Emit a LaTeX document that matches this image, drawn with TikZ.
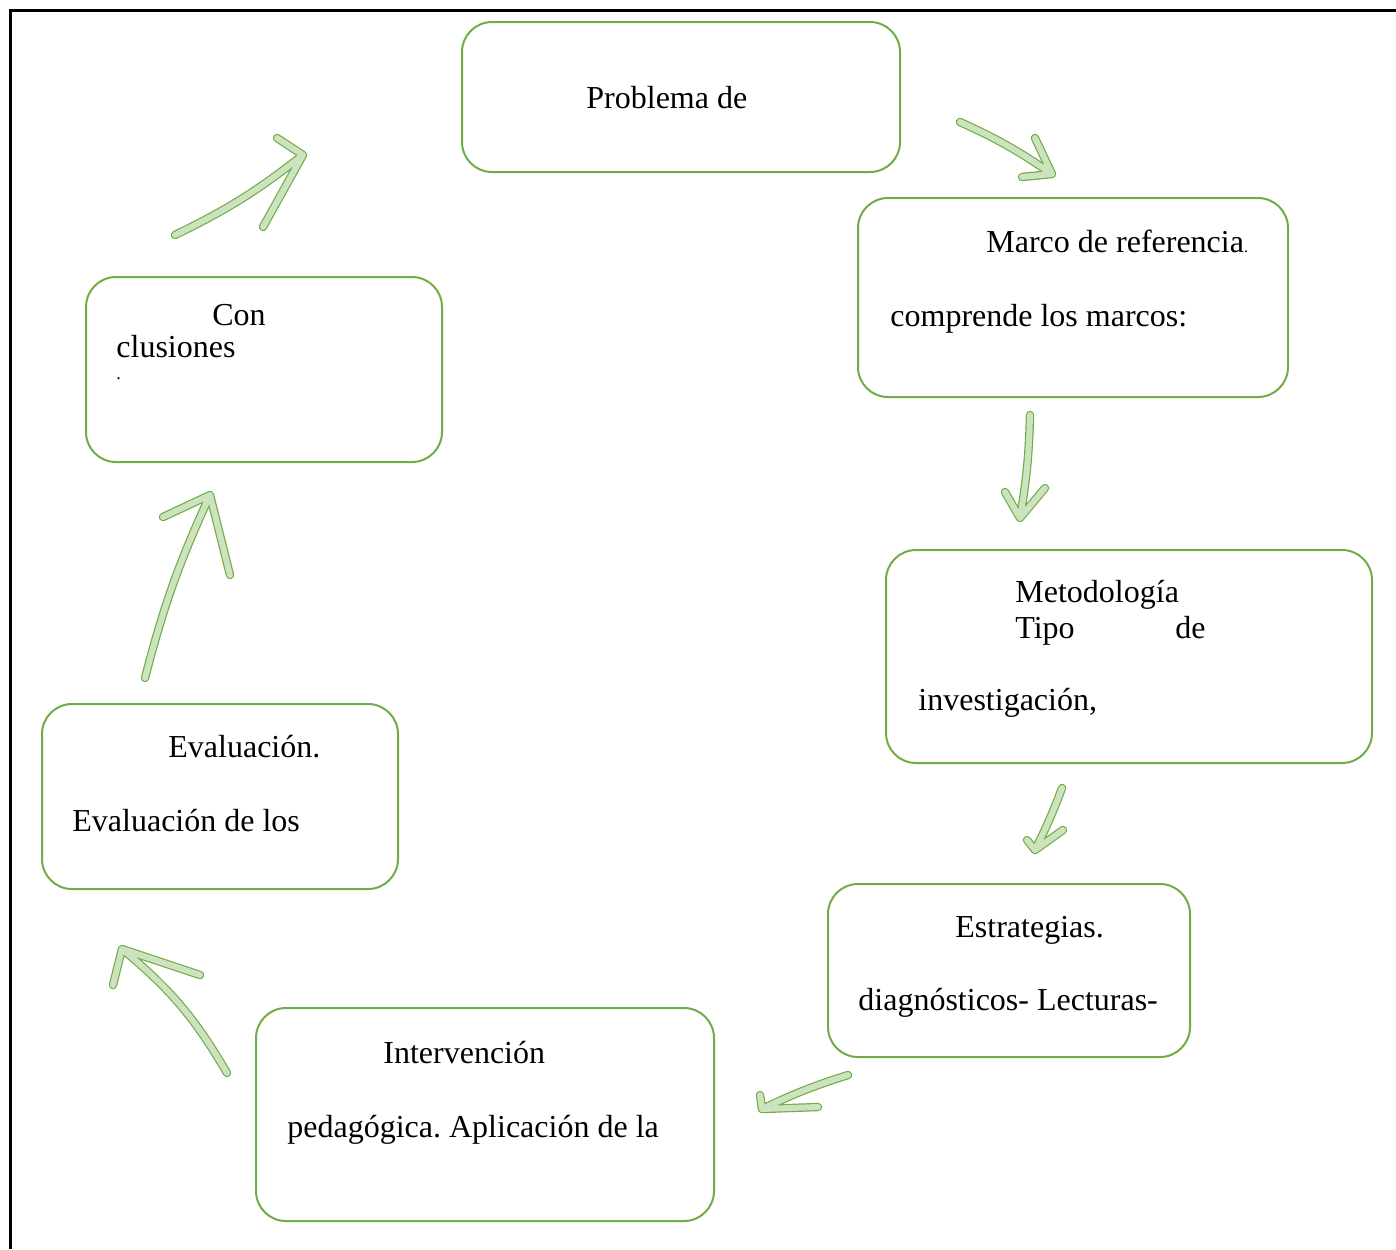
\documentclass[tikz,border=0pt]{standalone}
\usepackage{fontspec}
\setmainfont{Liberation Serif}
\usetikzlibrary{fit}
\definecolor{boxgreen}{RGB}{112,173,71}
\definecolor{arrowfill}{RGB}{205,226,190}
\tikzset{
  stage/.style={draw=boxgreen, line width=1pt, rounded corners=15pt, inner sep=0pt},
  txt/.style={anchor=base west, inner sep=0pt, font=\fontsize{16}{19}\selectfont},
  sketch/.style={draw=boxgreen, line width=0.6pt, double=arrowfill, double distance=3pt,
    line cap=round, line join=round},
}
\frenchspacing
\begin{document}
\begin{tikzpicture}[x=0.5pt,y=-0.5pt]
  \useasboundingbox (0,0) rectangle (1396,1249);
  \draw[line width=1.5pt] (10,1249) -- (10,10) -- (1396,10);
  % stages
  \node[stage, fit={(462,22) (900,172)}] (problema) {};
  \node[stage, fit={(858,198) (1288,397)}] (marco) {};
  \node[stage, fit={(886,550) (1372,763)}] (metodo) {};
  \node[stage, fit={(828,884) (1190,1057)}] (estrat) {};
  \node[stage, fit={(256,1008) (714,1221)}] (interv) {};
  \node[stage, fit={(42,704) (398,889)}] (evalua) {};
  \node[stage, fit={(86,277) (442,462)}] (concl) {};
  % texts
  \node[txt] (t1) at (586,108) {Problema de};
  \node[txt] (t2) at (986,252) {Marco de referencia{\fontsize{8}{9}\selectfont.}};
  \node[txt] (t3) at (890,326) {comprende los marcos:};
  \node[txt] (t4) at (1015,602) {Metodología};
  \node[txt] (t5) at (1015,638) {Tipo};
  \node[txt] (t6) at (1175,638) {de};
  \node[txt] (t7) at (918,710) {investigación,};
  \node[txt] (t8) at (955,937) {Estrategias.};
  \node[txt] (t9) at (858,1010) {diagnósticos- Lecturas-};
  \node[txt] (t10) at (383,1063) {Intervención};
  \node[txt] (t11) at (287,1137) {pedagógica. Aplicación de la};
  \node[txt] (t12) at (168,757) {Evaluación.};
  \node[txt] (t13) at (72,831) {Evaluación de los};
  \node[txt] (t14) at (212,325) {Con};
  \node[txt] (t15) at (116,357) {clusiones};
  \node[txt, font=\fontsize{9}{10}\selectfont] (t16) at (116,379) {.};
  % arrows: start, tip, barbs
  \path (960,122) coordinate (a1s) (1052,174) coordinate (a1t)
        (1035,138) coordinate (a1l) (1022,177) coordinate (a1r);
  \path (1030,415) coordinate (a2s) (1020,518) coordinate (a2t)
        (1005,492) coordinate (a2l) (1045,488) coordinate (a2r);
  \path (1062,788) coordinate (a3s) (1035,850) coordinate (a3t)
        (1027,840) coordinate (a3l) (1063,830) coordinate (a3r);
  \path (848,1075) coordinate (a4s) (762,1109) coordinate (a4t)
        (760,1095) coordinate (a4l) (818,1107) coordinate (a4r);
  \path (227,1073) coordinate (a5s) (122,949) coordinate (a5t)
        (113,985) coordinate (a5l) (200,975) coordinate (a5r);
  \path (145,678) coordinate (a6s) (210,495) coordinate (a6t)
        (163,517) coordinate (a6l) (230,575) coordinate (a6r);
  \path (175,235) coordinate (a7s) (303,155) coordinate (a7t)
        (277,138) coordinate (a7l) (263,227) coordinate (a7r);
  \foreach \n/\b in {1/5,2/4,3/3,4/-4,5/-10,6/5,7/-6}
    \draw[sketch] (a\n s) to[bend left=\b] (a\n t) (a\n l) -- (a\n t) -- (a\n r);
\end{tikzpicture}
\end{document}
